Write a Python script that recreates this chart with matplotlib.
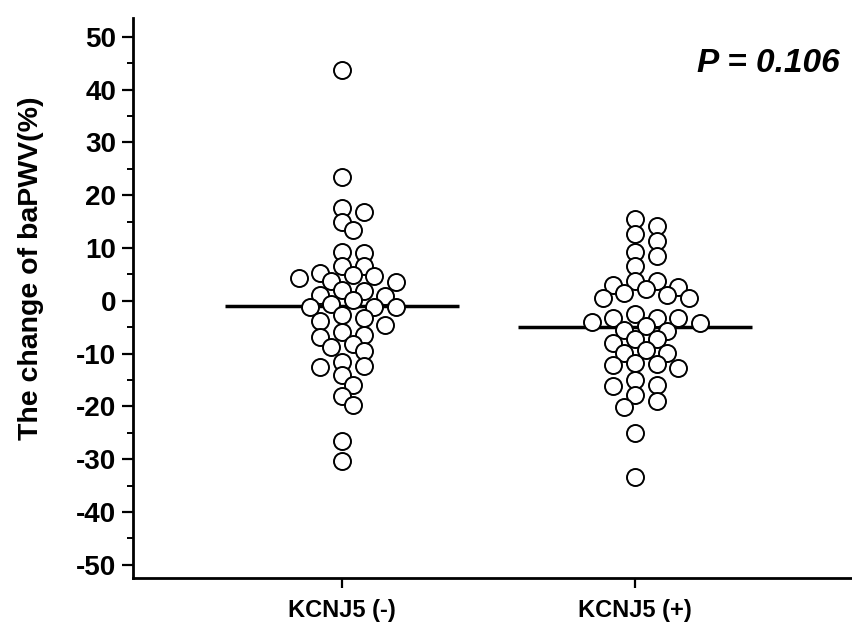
import matplotlib
matplotlib.use('Agg')
import matplotlib.pyplot as plt
from matplotlib.ticker import MultipleLocator
import numpy as np

# values (change of baPWV, %)
kcnj5_neg = [43.8, 23.5, 17.6, 16.9, 15.0, 13.4, 9.3, 9.0, 6.5, 6.5, 5.2, 4.9,
             4.6, 4.3, 3.7, 3.5, 2.1, 1.8, 1.1, 0.9, 0.1, -0.6, -1.1, -1.2,
             -1.2, -2.7, -3.3, -3.9, -4.5, -6.0, -6.4, -6.8, -8.1, -8.8, -9.6,
             -11.5, -12.4, -12.6, -14.0, -15.9, -18.0, -19.7, -26.6, -30.4]
kcnj5_pos = [15.5, 14.2, 12.6, 11.4, 9.3, 8.4, 6.6, 3.7, 3.7, 3.0, 2.7, 2.2,
             1.45, 1.1, 0.5, 0.5, -2.5, -3.3, -3.3, -3.3, -4.1, -4.2, -4.7,
             -5.5, -5.8, -7.3, -7.3, -7.9, -9.4, -9.8, -9.9, -11.8, -11.9,
             -12.1, -12.8, -15.0, -15.9, -16.2, -17.8, -18.9, -20.1, -25.1, -33.3]
groups = ["KCNJ5 (-)", "KCNJ5 (+)"]
mean_lines = [-0.9, -5.0]
p_text = "P = 0.106"

plt.rcParams['font.family'] = ['Liberation Sans', 'DejaVu Sans']
plt.rcParams['axes.unicode_minus'] = False

fig = plt.figure(figsize=(8.52, 6.31), dpi=100)
ax = fig.add_axes([0.156, 0.084, 0.844, 0.887])
ax.set_xlim(0.287, 2.74)
ax.set_ylim(-52.5, 53.5)


def swarm_x(values, center, step_px=10.8, min_dist=13.0):
    """simple grid beeswarm, done in pixel space"""
    to_px = ax.transData.transform
    inv = ax.transData.inverted()
    placed = []
    xs = np.zeros(len(values))
    order = np.argsort(values)[::-1]
    for i in order:
        cx, cy = to_px((center, values[i]))
        for k in range(40):
            shift = ((k + 1) // 2) * (1 if k % 2 else -1)
            px = cx + shift * step_px
            if all(np.hypot(px - qx, cy - qy) >= min_dist for qx, qy in placed):
                break
        placed.append((px, cy))
        xs[i] = inv.transform((px, cy))[0]
    return xs


for pos, vals, m in zip([1, 2], [kcnj5_neg, kcnj5_pos], mean_lines):
    xs = swarm_x(vals, pos)
    ax.scatter(xs, vals, s=150, facecolor='white', edgecolor='black',
               linewidth=1.4, zorder=3)
    ax.hlines(m, pos - 0.4, pos + 0.4, color='black', linewidth=2.5, zorder=2)

ax.spines['top'].set_visible(False)
ax.spines['right'].set_visible(False)
ax.spines['left'].set_linewidth(2)
ax.spines['bottom'].set_linewidth(2)

ax.yaxis.set_major_locator(MultipleLocator(10))
ax.yaxis.set_minor_locator(MultipleLocator(5))
ax.tick_params(axis='y', which='major', length=8, width=1.6, labelsize=20, pad=4)
ax.tick_params(axis='y', which='minor', length=4, width=1.4)
ax.set_xticks([1, 2])
ax.set_xticklabels(groups)
ax.tick_params(axis='x', length=7, width=1.6, labelsize=17, pad=8)
for lab in ax.get_xticklabels() + ax.get_yticklabels():
    lab.set_fontweight('bold')

ax.set_ylabel("The change of baPWV(%)", fontsize=20.5, fontweight='bold')
ax.yaxis.set_label_coords(-0.124, 0.554)
ax.text(0.983, 0.92, p_text, transform=ax.transAxes, ha='right', va='center',
        fontsize=24, fontweight='bold', fontstyle='italic')

fig.savefig("out.png", dpi=100)
